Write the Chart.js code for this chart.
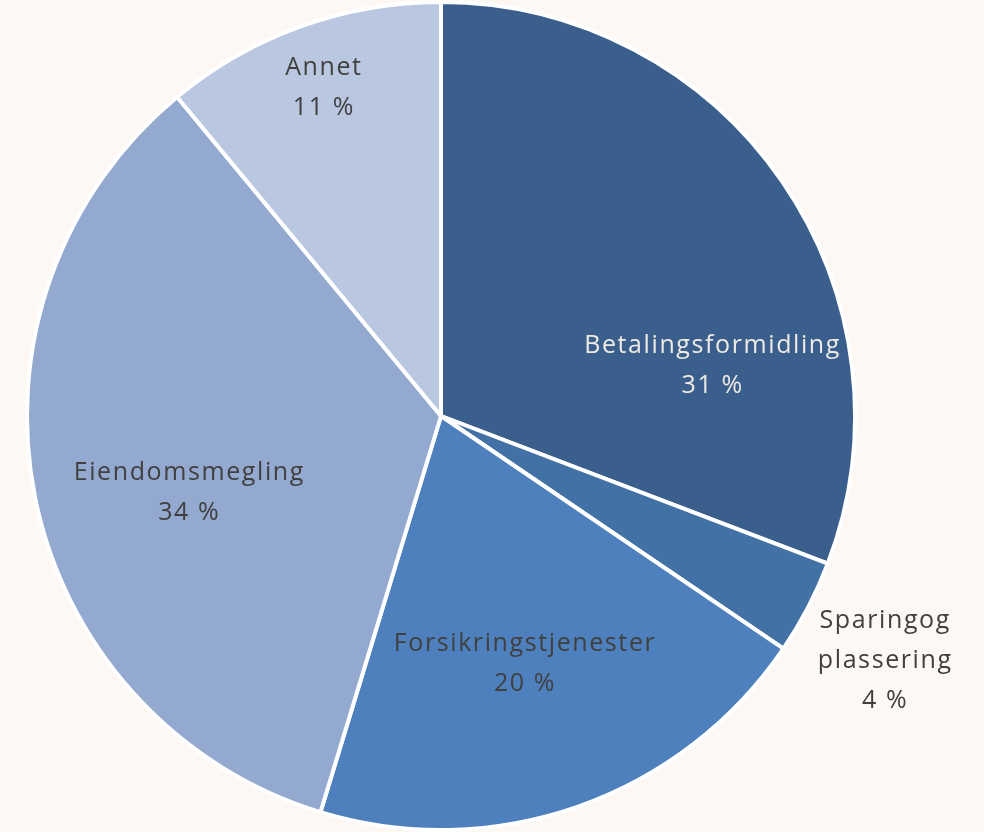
<!DOCTYPE html>
<html>
<head>
<meta charset="utf-8">
<style>
    html, body { margin: 0; padding: 0; background: #fdf8f4; }
    .chart-container { width: 984px; height: 832px; position: relative; }
</style>
</head>
<body>
<div class="chart-container">
    <canvas id="myChart"></canvas>
</div>

<script src="https://cdn.jsdelivr.net/npm/chart.js"></script>

<script>

    // Data
    const categories = ['Betalingsformidling', 'Sparing og plassering', 'Forsikringstjenester', 'Eiendomsmegling', 'Annet'];
    const labelLines = [['Betalingsformidling'], ['Sparingog', 'plassering'], ['Forsikringstjenester'], ['Eiendomsmegling'], ['Annet']];
    const shares = [30.8, 3.7, 20.2, 34.3, 11.0];

    const sliceColors = ['#3a5f8d', '#4271a6', '#4d80bc', '#93a9cf', '#bac7e0'];
    const textColors = ['#eeeae4', '#404040', '#404040', '#404040', '#404040'];
    // label anchor, in fractions of the radius from the pie centre
    const labelAnchors = [[0.656, -0.122], [1.073, 0.592], [0.203, 0.598], [-0.608, 0.185], [-0.283, -0.792]];

    const background = {
        id: 'background',
        beforeDraw(chart) {
            const c = chart.ctx;
            c.save();
            c.fillStyle = '#fdf8f4';
            c.fillRect(0, 0, chart.width, chart.height);
            c.restore();
        }
    };

    const sliceLabels = {
        id: 'sliceLabels',
        afterDatasetsDraw(chart) {
            const meta = chart.getDatasetMeta(0);
            const c = chart.ctx;
            const lineHeight = 40;
            c.save();
            c.font = '25px "Open Sans", sans-serif';
            c.letterSpacing = '1.6px';
            c.textAlign = 'center';
            c.textBaseline = 'middle';
            meta.data.forEach((arc, i) => {
                const r = arc.outerRadius;
                const cx = arc.x + labelAnchors[i][0] * r;
                const cy = arc.y + labelAnchors[i][1] * r;
                const lines = labelLines[i].concat([Math.round(shares[i]) + ' %']);
                const top = cy - (lines.length - 1) * lineHeight / 2;
                c.fillStyle = textColors[i];
                lines.forEach((t, j) => c.fillText(t, cx, top + j * lineHeight));
            });
            c.restore();
        }
    };

    const ctx = document.getElementById('myChart').getContext('2d');
    const chartInstance = new Chart(ctx, {
        type: 'pie',
        data: {
            labels: categories,
            datasets: [{
                data: shares,
                backgroundColor: sliceColors,
                borderColor: '#ffffff',
                borderWidth: 4
            }]
        },
        options: {
            responsive: true,
            maintainAspectRatio: false,
            animation: false,
            layout: { padding: { top: 0, bottom: 0, left: 0, right: 102 } },
            plugins: {
                legend: { display: false },
                tooltip: { enabled: false }
            }
        },
        plugins: [background, sliceLabels]
    });

</script>
</body>
</html>
